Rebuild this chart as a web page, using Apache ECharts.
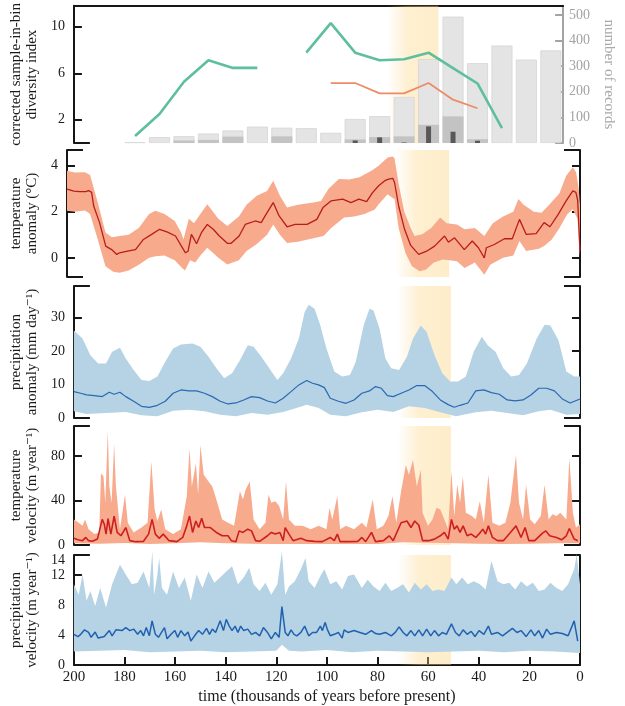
<!DOCTYPE html>
<html>
<head>
<meta charset="utf-8">
<script src="https://cdn.jsdelivr.net/npm/echarts@6/dist/echarts.min.js"></script>
<style>
  html, body { margin: 0; background: #fff; }
  #chart { width: 625px; height: 706px; }
</style>
</head>
<body>
<div id="chart"></div>
<script>
// ---- panel 1: diversity index + number of records (10 kyr bins) ----
const binTimes = [175, 165, 155, 145, 135, 125, 115, 105, 95, 85, 75, 65, 55, 45, 35, 25, 15, 5]
const recordsAll = [3, 23, 27, 37, 49, 64, 60, 58, 40, 94, 105, 180, 328, 494, 312, 381, 326, 362]
const recordsMid = [0, 0, 10, 12, 25, 0, 26, 0, 0, 14, 23, 26, 71, 104, 15, 0, 0, 0]
const recordsDark = [0, 0, 0, 0, 0, 0, 0, 0, 0, 10, 22, 2, 65, 44, 9, 0, 0, 0]
const diversityGreen = [0.6, 2.5, 5.27, 7.12, 6.46, 6.46, null, 7.77, 10.32, 7.77, 7.12, 7.2, 7.77, 6.45, 5.12, 1.29, null, null]
const diversityOrange = [null, null, null, null, null, null, null, null, 5.16, 5.16, 4.27, 4.27, 5.16, 3.73, 2.99, null, null, null]

// ---- panel 2: temperature anomaly (°C) ----
const tempMean = [[200,2.98],[197.3,2.9],[195,2.87],[192.7,2.87],[191.6,2.92],[190.4,2.84],[189.6,2.25],[187.3,1.53],[184.9,0.51],[182.6,0.36],[180.6,0.15],[179.5,0.22],[176.4,0.29],[173.3,0.36],[170.2,0.8],[167,1.02],[163.9,1.24],[160.8,1.12],[157.7,0.95],[155.4,0.51],[153.8,0.22],[152.8,0.29],[151.5,1.02],[150.4,0.8],[149.5,0.61],[147.6,1.09],[145.3,1.45],[143,1.24],[140.6,0.95],[137.5,0.63],[136,0.63],[132.9,0.95],[130.5,1.45],[126.6,1.6],[124.3,1.53],[122,1.96],[119.6,2.4],[117.3,1.82],[114.2,1.35],[111.1,1.45],[106.4,1.45],[102.6,1.67],[100.2,2.18],[97.1,2.47],[92.5,2.55],[89.3,2.4],[86.2,2.55],[83.2,2.44],[80.8,2.84],[78.5,3.13],[76.1,3.35],[74.6,3.42],[73,3.45],[72.3,3.27],[70.7,2.25],[68.4,1.24],[66,0.54],[62.9,0.15],[59.8,0.29],[56.7,0.51],[52.8,0.95],[51.3,0.68],[48.9,0.87],[45.1,0.36],[42,0.73],[39.6,0.44],[37.3,0.0],[36.5,0.44],[33.4,0.58],[29.5,0.83],[26.4,0.83],[23.6,1.67],[21,1.02],[17.1,1.05],[14,1.53],[11.7,1.35],[8.5,1.89],[5.4,2.47],[2.8,2.91],[1.6,2.84],[0.9,2.5],[0,0.3]]
const tempUpper = [[200,3.78],[197,3.7],[193,3.72],[191,3.6],[188,2.4],[185,1.1],[182.5,0.9],[179.5,0.95],[176,1.0],[172,1.3],[168,1.9],[165.5,2.04],[162,1.9],[158,1.6],[155.5,1.1],[154.6,0.8],[152.5,1.7],[150.5,1.5],[148,1.9],[145.3,2.33],[141,1.7],[137.5,1.38],[133,1.8],[130,2.3],[126,2.7],[122,2.9],[119.6,3.35],[117,2.7],[114.2,2.18],[110,2.3],[104,2.4],[101,2.47],[98,3.0],[94,3.42],[90,3.4],[86,3.5],[81,3.8],[78.5,4.0],[75,4.36],[73,4.4],[72.3,4.32],[70.7,3.2],[68.5,2.0],[66,1.3],[64.5,0.95],[61.5,1.02],[58,1.3],[54.5,1.75],[52,1.5],[48,1.45],[45,1.24],[41,1.3],[37.3,0.95],[34,1.5],[30,1.8],[26,2.0],[24,2.55],[22,2.3],[18,2.0],[15,1.96],[12,2.3],[8,2.8],[5.4,3.56],[2.8,3.93],[1.5,3.7],[0.5,3.0],[0,2.3]]
const tempLower = [[200,2.04],[197,2.0],[193,2.05],[191,1.9],[188,0.8],[185,-0.36],[182,-0.6],[179.5,-0.65],[176,-0.55],[172,-0.3],[168,0.0],[165.5,0.07],[162,0.1],[158,-0.1],[155,-0.45],[154,-0.55],[152,-0.1],[150,-0.2],[148,0.1],[145.3,0.44],[141,0.0],[137.5,-0.29],[133,-0.1],[130,0.3],[126,0.6],[122,1.0],[119.6,1.45],[117,1.0],[114.2,0.65],[110,0.7],[104,0.85],[100,0.95],[97,1.3],[92,1.75],[88,1.8],[84,1.9],[80,2.1],[78.5,2.33],[75,2.76],[73,2.6],[72.3,2.55],[70.7,1.3],[68,0.2],[65.5,-0.36],[62.5,-0.58],[60,-0.5],[57,-0.2],[53.5,-0.07],[51,-0.1],[48,-0.15],[45,-0.44],[41,-0.2],[37.3,-0.73],[35,-0.3],[30,0.0],[26,0.1],[23.6,0.73],[21,0.3],[16,0.4],[14,0.51],[11,0.8],[8,1.3],[5,1.89],[2.8,2.11],[1,1.7],[0,0]]

// ---- panel 3: precipitation anomaly (mm day-1) ----
const precMean = [[200,7.9],[197.3,7.4],[195,6.9],[191.9,6.7],[188.8,6.4],[186,7.7],[184.1,7.1],[181.8,7.7],[179.5,6.4],[176.4,5.0],[173.3,3.5],[170.2,3.2],[167,3.8],[163.9,5.0],[160.8,7.4],[157.7,8.4],[154.6,8.1],[151.5,8.1],[148.4,7.4],[145.3,6.4],[142.2,5.0],[139.1,4.2],[136,4.5],[132.9,5.4],[129.8,6.4],[126.6,6.1],[123.5,5.1],[120.4,4.5],[117.3,5.9],[114.2,7.9],[111.1,9.9],[108,11.2],[105.7,10.4],[103.3,9.9],[101,9.1],[98.7,5.9],[95.5,5.0],[92.5,4.4],[89.3,5.4],[86.2,7.4],[83.2,8.1],[80.8,9.4],[78.5,8.9],[76.1,6.7],[73.8,6.4],[70.7,7.4],[67.6,8.4],[64.5,9.7],[61.4,9.7],[58.3,7.9],[55.2,5.4],[52.1,4.0],[49.7,3.2],[47.4,3.8],[44.3,4.5],[41.2,8.1],[38,8.4],[35,7.6],[31.9,7.1],[28.8,5.4],[25.6,5.1],[22.5,5.4],[19.4,6.9],[16.3,8.9],[13.2,8.9],[10.1,8.1],[7,5.7],[3.9,4.5],[0,5.7]]
const precUpper = [[200,26.2],[196.6,23.8],[193.5,18.8],[190.4,16.3],[187.3,16.3],[184.9,19.8],[181.8,21],[179.5,17.8],[176.4,14.4],[173.3,11.4],[170.2,11.1],[167,12.4],[163.9,16.8],[160.8,20.8],[157.7,22],[153.1,22.3],[150,21.3],[146.8,18.3],[143.7,14.9],[140.6,11.9],[137.5,13.4],[134.4,17.3],[131.3,21.8],[129,21.3],[125.9,18.3],[122.8,14.9],[119.6,11.4],[117.3,13.4],[114.2,17.8],[111.1,23.8],[108.8,31.7],[107.2,33.9],[104.9,32.7],[102.6,27.7],[100.2,20.8],[97.1,13.9],[94,12.4],[90.9,12.9],[88.6,16.8],[85.5,27.7],[83.2,32.7],[81.6,32.2],[79.2,26.7],[76.9,17.8],[74.6,14.9],[71.5,14.4],[68.4,18.3],[66,23.8],[62.9,27.7],[60.6,25.7],[57.5,18.8],[54.4,13.4],[51.3,10.9],[48.2,10.9],[45.1,12.4],[42,19.8],[38.8,24.3],[36.5,21.8],[33.4,19.8],[30.3,14.9],[27.2,12.4],[24.1,12.9],[21,16.3],[17.1,23.8],[14,27.9],[11.7,27.7],[8.5,23.3],[5.4,13.9],[2.3,12.4],[0,12.4]]
const precLower = [[200,2.0],[195,1.2],[187.3,1.5],[179.5,1.8],[173.3,0.8],[167,0.5],[160.8,2.2],[154.6,2.5],[148.4,2.0],[142.2,1.0],[136,0.5],[129.8,1.5],[123.5,1.0],[117.3,1.8],[111.1,3.2],[108,4.0],[103.3,3.0],[98.7,1.0],[92.5,0.5],[86.2,1.7],[80,2.5],[73.8,1.8],[67.6,3.5],[61.4,3.0],[55.2,1.7],[49,0.5],[41.2,1.7],[35,2.2],[28.8,1.5],[22.5,0.8],[16.3,2.0],[11.7,2.5],[5.4,1.0],[0,1.2]]

// ---- panel 4: temperature velocity (m year-1) ----
const tvelMean = [[200,6],[198.4,4.7],[196.6,3.9],[195.3,6.8],[194.2,3.9],[192.7,3.3],[190.7,5.3],[188.8,23],[188,18.7],[187.3,9.8],[186.5,23.7],[185.4,9.8],[184.1,26],[182.9,11.3],[181.4,8.3],[179.5,15.7],[177.9,3.9],[175.6,3],[172.5,3.3],[170.5,9.8],[169.1,23],[167.8,9.8],[166.3,6],[164.7,9.8],[162.4,3.9],[159.3,3],[157,6.8],[155.4,17.2],[154.3,26],[153.1,11.3],[151.8,21.6],[150.7,15.7],[149.5,24],[148.4,15.7],[146.1,15.7],[143.7,11.3],[141.4,8.3],[139.1,8.3],[137.8,3.9],[136,3],[134.7,12.7],[133.2,11.3],[131.3,14.2],[129.8,12.7],[128.2,3.9],[126.6,3.3],[123.5,8.3],[122,11.3],[120.4,9.8],[118.6,11.3],[117.3,3.9],[116.5,15.7],[115,9.8],[113.4,3.9],[110.3,6],[108,3.9],[104.9,3.3],[101.8,3],[98.7,6.8],[97.1,3.9],[95.9,9.8],[94.8,3],[91.7,3],[87.8,3.3],[86.2,6.8],[84.7,3],[82.4,11.3],[80.8,3],[77.7,3.9],[75.4,8.3],[73.8,3.9],[70.7,20],[68.4,21.6],[66.8,15.7],[65.3,21.6],[63.7,17.8],[62.2,3.9],[59.8,3.9],[57.5,5.3],[55.2,8.3],[53.6,11.3],[52.1,5.3],[50.8,23],[49.7,14.2],[48.6,17.2],[47.4,11.3],[46.2,17.2],[44.6,8.3],[43,9.8],[41.2,6.8],[39.6,10.7],[38.4,14.2],[37.3,9.8],[36.2,17.2],[34.6,6.8],[32.6,3.9],[30.3,3.9],[27.5,11.3],[25.3,17.2],[23.3,6.8],[21.7,15.7],[20.2,3.9],[17.9,3.9],[14.8,10.7],[13.5,12.7],[12,8.3],[9.3,6.8],[7.3,4.7],[5.4,8.3],[4.2,14.8],[2.3,5.3],[0.9,3.9]]
const tvelUpper = [[200,23],[198.1,20],[196.6,17.2],[195.6,23],[194.2,14.2],[191.9,9.8],[190,11.3],[189.3,64.6],[188.3,61.6],[187.6,37.9],[186.6,103],[186,52.7],[185.1,37.9],[184.1,91],[183.4,52.7],[181.8,14.2],[179.8,45.3],[178.7,20],[176.4,11.3],[173.3,15.7],[170.9,20],[169.4,75],[168.1,32],[167,21.6],[165.5,32],[163.9,14.2],[160.8,9.8],[157.7,14.2],[155.4,43.9],[154.3,86.8],[153.4,52.7],[151.8,73.5],[150.9,45.3],[150,89.8],[148.7,63.1],[146.8,57.2],[145.3,52.7],[143.7,40.9],[141.4,23],[139.1,20],[136.7,17.2],[134.4,48.3],[133.2,40.9],[132.1,49.8],[130.5,57.2],[129,23],[126.6,14.2],[124.3,20],[123.1,45.3],[122,37.9],[120.4,39.4],[118.9,35],[117.3,23],[116.2,57.2],[115,23],[112.7,17.2],[109.6,17.2],[106.4,14.2],[103.3,17.2],[100.2,14.2],[99,33.5],[97.9,23],[95.9,43.9],[94.8,14.2],[92.5,17.2],[89.3,14.2],[86.2,20],[84.4,15.7],[81.9,40.9],[80.3,14.2],[77.7,17.2],[75.7,26],[74.1,43.9],[72.6,20],[70.7,48.3],[68.8,72],[67.6,63.1],[66,76.4],[64.5,52.7],[62.9,67.6],[62.2,29],[60.1,17.2],[58.3,23],[56.7,33.5],[55.2,32],[53.6,23],[52.1,14.2],[50.8,66],[49.7,26],[48.5,54.2],[47.4,37.9],[46.3,61.6],[45.1,29],[42.7,26],[41.2,23],[39.6,39.4],[38,20],[36.2,63.1],[34.6,20],[31.9,17.2],[29.5,20],[27.5,37.9],[25.3,80.9],[24.1,37.9],[22.5,23],[21.3,54.2],[19.7,23],[17.9,18.7],[15.5,26],[14,54.2],[12.4,23],[10.9,27.6],[9.3,26],[7.8,29],[5.4,23],[4.2,77.9],[2.8,29],[1.6,15.7],[0,18.7]]
const tvelLower = [[200,1.5],[190,1.2],[180,1.8],[170,1.0],[160,1.5],[150,2.5],[140,1.5],[130,1.2],[120,1.0],[110,0.8],[100,0.8],[90,0.8],[80,1.0],[70,2.5],[60,2.0],[50,1.5],[40,1.2],[30,1.0],[20,1.2],[10,1.5],[0,1.5]]

// ---- panel 5: precipitation velocity (m year-1) ----
const pvelMean = [[200,4.1],[198.4,3.8],[197.3,4.1],[195.8,4.7],[194.2,4.35],[193.2,3.7],[191.6,4.4],[190.4,3.6],[188,3.8],[186,4.6],[184.9,3.9],[183.4,4.7],[181,4.6],[179.5,5.0],[177.9,4.6],[176.4,4.8],[174.8,4.1],[173.6,4.6],[172.5,3.9],[171.4,5.0],[170.2,3.9],[169.1,5.9],[167.8,4.1],[166.6,3.7],[165.5,4.3],[164.2,5.0],[163.2,3.5],[161.6,4.1],[160.1,4.6],[159,3.7],[157.7,4.6],[156.2,3.9],[154.9,4.4],[153.8,3.2],[152.3,3.9],[150.7,4.6],[149.2,4.1],[147.6,4.9],[146.4,4.1],[145.3,4.8],[144,4.35],[143,5.2],[142.2,5.9],[140.9,4.6],[139.8,6.1],[138.6,5.2],[137.5,4.6],[136.3,5.2],[135.2,4.35],[134.1,5.2],[132.9,4.6],[131.3,4.8],[129.8,4.1],[128.2,4.35],[126.6,3.9],[125.1,5.0],[123.5,4.35],[122,3.5],[120.4,4.35],[118.9,3.7],[117.8,7.8],[116.5,4.35],[115.4,3.9],[114.2,4.7],[113,4.1],[111.9,3.9],[110.3,4.35],[108.8,5.2],[107.2,3.9],[105.7,4.35],[104.1,4.35],[102.6,5.2],[101.8,4.6],[100.7,5.7],[99.9,4.8],[98.7,3.9],[97.1,4.1],[95.5,4.35],[94,3.6],[93.2,4.7],[91.7,4.35],[89.3,4.6],[87,4.35],[84.7,4.1],[82.4,4.6],[80.8,4.2],[79.2,4.1],[76.9,4.35],[74.6,3.9],[73,4.35],[71.5,5.1],[69.9,4.35],[68.4,3.9],[66.8,4.6],[65.3,3.9],[63.7,4.7],[62.2,3.9],[60.6,4.8],[59,3.9],[57.5,4.6],[55.9,3.9],[54.4,4.35],[52.8,4.1],[50.8,5.5],[49.2,4.35],[47.7,3.9],[46.2,4.7],[44.6,4.1],[43,4.5],[41.5,3.8],[39.9,4.6],[38,4.1],[36.2,5.2],[35,4.1],[32.6,4.35],[30.6,3.9],[28.8,4.35],[26.7,4.9],[24.9,4.35],[23.3,4.6],[21.3,3.8],[19.4,4.7],[17.9,3.9],[16.3,4.6],[14.8,3.6],[13.2,4.8],[11.7,4.1],[9.3,4.35],[7,4.2],[4.7,3.9],[2.3,5.9],[0.9,3.2]]
const pvelUpper = [[200,10.8],[198.1,9.4],[196.6,12.1],[195,8.6],[193.5,9.9],[191.6,7.9],[189.6,10.3],[187.3,7.7],[184.9,10.8],[181.8,13.4],[179.5,12.1],[177.1,10.8],[174.8,11],[172.5,12.5],[170.2,10.3],[169,15.2],[168.3,9.4],[167,12.1],[166.3,14.3],[165.2,10.3],[163.2,9.4],[160.8,12.5],[158.5,10.3],[156.2,11.7],[153.8,8.6],[151.5,12.1],[149.2,10.3],[146.8,12.5],[144.5,11],[142.2,11.7],[139.8,12.5],[137.5,13.2],[135.2,10.8],[132.9,11.7],[130.7,13],[129,10.8],[126.6,9.9],[124.3,11],[122,9.4],[119.6,10.8],[117.8,15.2],[116.5,9.4],[115,10.5],[112.7,11.2],[110.3,12.8],[108.5,14.3],[107.2,11.2],[104.9,10.3],[102.6,11.9],[101,12.8],[98.7,10.8],[96.3,11.2],[94,10.1],[91.7,11.9],[89.3,12.1],[86.2,10.3],[83.9,11.4],[81.6,10.5],[79.2,9.9],[76.9,11],[74.6,9.9],[72.3,10.3],[69.9,10.8],[67.6,9.7],[65.3,11],[62.9,10.1],[60.6,10.8],[58.3,9.9],[55.9,10.1],[53.6,9.9],[50.8,11.7],[48.9,10.8],[46.6,11.7],[44.3,10.8],[42,11.2],[39.6,10.8],[37.3,10.1],[35,13.9],[32.6,11.2],[30.3,10.8],[28,11],[25.6,10.1],[23.3,11.2],[21,10.5],[18.6,11],[16.3,9.9],[14,10.1],[11.7,11],[9.3,10.3],[7,9.9],[4.7,10.8],[2.3,12.8],[1.3,14.8],[0,10.8]]
const pvelLower = [[200,1.8],[190,1.9],[180,2.0],[170,1.7],[160,1.8],[150,1.9],[140,1.7],[130,1.8],[120,1.9],[117.8,2.7],[115,1.9],[110,1.8],[100,2.0],[90,1.7],[80,1.9],[70,1.8],[60,1.7],[50,1.8],[40,1.9],[30,1.7],[20,1.9],[10,1.8],[0,1.6]]

// highlighted interval (kyr BP)
const bandFrom = 72
const bandTo = 51

const FONT = '"Liberation Serif", "DejaVu Serif", serif'
const INK = '#161616'
const TEMP_BAND = '#f8aa8c'
const PREC_BAND = '#b5d3e4'

const grids = []
const xAxes = []
const yAxes = []
const series = []

function addGrid(top, height) {
  grids.push({ left: 67, right: 45, top, height })
  return grids.length - 1
}

function addX(g, extra) {
  xAxes.push(Object.assign({
    type: 'value', gridIndex: g, min: 0, max: 200, inverse: true, show: false,
    axisLine: { onZero: false },
    splitLine: { show: false }
  }, extra))
  return xAxes.length - 1
}

// vertical frame axis with inward ticks
function frameY(g, pos, min, max, ticks, labels, name, color) {
  color = color || INK
  const ax = {
    type: 'value', gridIndex: g, position: pos, offset: 0, min, max,
    splitLine: { show: false },
    axisLine: { show: true, onZero: false, lineStyle: { color, width: 2 } },
    axisTick: { show: true, inside: true, length: 8, customValues: ticks, lineStyle: { color, width: 2 } },
    axisLabel: labels
      ? { show: true, customValues: labels, fontFamily: FONT, fontSize: 14, color: color === INK ? '#1a1a1a' : color, margin: pos === 'left' ? 9 : 6 }
      : { show: false }
  }
  if (name) {
    ax.name = name
    ax.nameLocation = 'middle'
    ax.nameRotate = pos === 'left' ? 90 : -90
    ax.nameGap = pos === 'left' ? 24 : 30
    ax.nameTextStyle = { fontFamily: FONT, fontSize: 15, lineHeight: 16, color: color === INK ? '#1a1a1a' : '#a9a9a9' }
  }
  yAxes.push(ax)
  return yAxes.length - 1
}

// short horizontal caps at the ends of a vertical axis
function capsY(g, pos, min, max, ends) {
  yAxes.push({
    type: 'value', gridIndex: g, position: pos, offset: 0, min, max,
    splitLine: { show: false },
    axisLine: { show: false, onZero: false },
    axisTick: { show: true, inside: true, length: 16, customValues: ends, lineStyle: { color: INK, width: 2 } },
    axisLabel: { show: false }
  })
}

function bandSeries(xi, yi, upper, lower, color) {
  const ring = upper.concat(lower.slice().reverse())
  return {
    type: 'custom', xAxisIndex: xi, yAxisIndex: yi, z: 1, silent: true,
    data: [[100, 0]],
    renderItem: (params, api) => ({
      type: 'polygon',
      shape: { points: ring.map(p => api.coord(p)) },
      style: { fill: color }
    })
  }
}

function meanSeries(xi, yi, data, color, width) {
  return {
    type: 'line', xAxisIndex: xi, yAxisIndex: yi, z: 3, data,
    symbol: 'none', silent: true,
    lineStyle: { color, width }
  }
}

function glacialSeries(xi, yi) {
  return {
    type: 'line', xAxisIndex: xi, yAxisIndex: yi, z: 8, data: [], silent: true,
    markArea: {
      silent: true,
      itemStyle: {
        color: new echarts.graphic.LinearGradient(0, 0, 1, 0, [
          { offset: 0, color: 'rgba(252,212,128,0)' },
          { offset: 0.4, color: 'rgba(252,212,128,0.36)' },
          { offset: 1, color: 'rgba(252,212,128,0.42)' }
        ])
      },
      data: [[{ xAxis: bandFrom }, { xAxis: bandTo }]]
    }
  }
}

// panel 1
const g0 = addGrid(4, 139)
const x0 = addX(g0, {
  show: true, position: 'top',
  axisLine: { show: true, onZero: false, lineStyle: { color: INK, width: 2 } },
  axisTick: { show: false }, axisLabel: { show: false }
})
const x0b = addX(g0)
const y0 = frameY(g0, 'left', 0, 11.8, [2, 6, 10], [2, 6, 10], 'corrected sample-in-bin\ndiversity index')
const y0r = frameY(g0, 'right', 0, 536, [0, 100, 200, 300, 400, 500], [0, 100, 200, 300, 400, 500], 'number of records', '#a3a3a3')
capsY(g0, 'left', 0, 11.8, [0])

const toPairs = vals => binTimes.map((t, i) => [t, vals[i] == null ? '-' : vals[i]])

series.push({
  type: 'bar', xAxisIndex: x0, yAxisIndex: y0r, barWidth: 21, barGap: '-100%', z: 1, silent: true,
  data: toPairs(recordsAll),
  itemStyle: { color: '#e4e4e4', borderColor: '#d6d6d6', borderWidth: 0.8 }
})
series.push({
  type: 'bar', xAxisIndex: x0, yAxisIndex: y0r, barWidth: 21, barGap: '-100%', z: 1, silent: true,
  data: toPairs(recordsMid),
  itemStyle: { color: '#c3c3c3' }
})
series.push({
  type: 'bar', xAxisIndex: x0b, yAxisIndex: y0r, barWidth: 5, z: 1, silent: true,
  data: toPairs(recordsDark),
  itemStyle: { color: '#585858' }
})
series.push({
  type: 'line', xAxisIndex: x0, yAxisIndex: y0, z: 3, symbol: 'none', silent: true,
  data: toPairs(diversityGreen), lineStyle: { color: '#5dbf9b', width: 2.6 }
})
series.push({
  type: 'line', xAxisIndex: x0, yAxisIndex: y0, z: 3, symbol: 'none', silent: true,
  data: toPairs(diversityOrange), lineStyle: { color: '#ec8b68', width: 1.8 }
})
series.push(glacialSeries(x0, y0))

// panels 2-5
const panels = [
  { top: 150, height: 127, min: -0.83, max: 4.68, ticks: [0, 2, 4], labels: [0, 2, 4], name: 'temperature\nanomaly (°C)',
    upper: tempUpper, lower: tempLower, mean: tempMean, band: TEMP_BAND, line: '#b81d1d', width: 1.3 },
  { top: 286, height: 132, min: 0, max: 39.5, ticks: [0, 10, 20, 30], labels: [0, 10, 20, 30], name: 'precipitation\nanomaly (mm day⁻¹)',
    upper: precUpper, lower: precLower, mean: precMean, band: PREC_BAND, line: '#2b68b2', width: 1.2 },
  { top: 426, height: 119, min: 0, max: 107, ticks: [0, 40, 80], labels: [0, 40, 80], name: 'temperature\nvelocity (m year⁻¹)',
    upper: tvelUpper, lower: tvelLower, mean: tvelMean, band: TEMP_BAND, line: '#cc1f1f', width: 1.6 },
  { top: 555, height: 110, min: 0, max: 14.7, ticks: [4, 8, 12], labels: [0, 4, 8, 12, 14], name: 'precipitation\nvelocity (m year⁻¹)',
    upper: pvelUpper, lower: pvelLower, mean: pvelMean, band: PREC_BAND, line: '#2161af', width: 1.5 }
]

panels.forEach((p, k) => {
  const g = addGrid(p.top, p.height)
  const last = k === panels.length - 1
  const xi = addX(g, last ? {
    show: true, position: 'bottom', interval: 20,
    axisLine: { show: true, onZero: false, lineStyle: { color: INK, width: 2 } },
    axisTick: { show: true, inside: true, length: 8, lineStyle: { color: INK, width: 2 } },
    axisLabel: { fontFamily: FONT, fontSize: 15, color: '#1a1a1a', margin: 5 },
    name: 'time (thousands of years before present)', nameLocation: 'middle', nameGap: 24,
    nameTextStyle: { fontFamily: FONT, fontSize: 16, color: '#1a1a1a' }
  } : {})
  const yi = frameY(g, 'left', p.min, p.max, p.ticks, p.labels, p.name)
  frameY(g, 'right', p.min, p.max, p.ticks, null, null)
  capsY(g, 'left', p.min, p.max, last ? [p.max] : [p.min, p.max])
  capsY(g, 'right', p.min, p.max, last ? [p.max] : [p.min, p.max])
  series.push(bandSeries(xi, yi, p.upper, p.lower, p.band))
  series.push(meanSeries(xi, yi, p.mean, p.line, p.width))
  series.push(glacialSeries(xi, yi))
})

const chart = echarts.init(document.getElementById('chart'), null, { renderer: 'canvas' })
chart.setOption({
  animation: false,
  backgroundColor: '#fff',
  grid: grids,
  xAxis: xAxes,
  yAxis: yAxes,
  series
})
</script>
</body>
</html>
